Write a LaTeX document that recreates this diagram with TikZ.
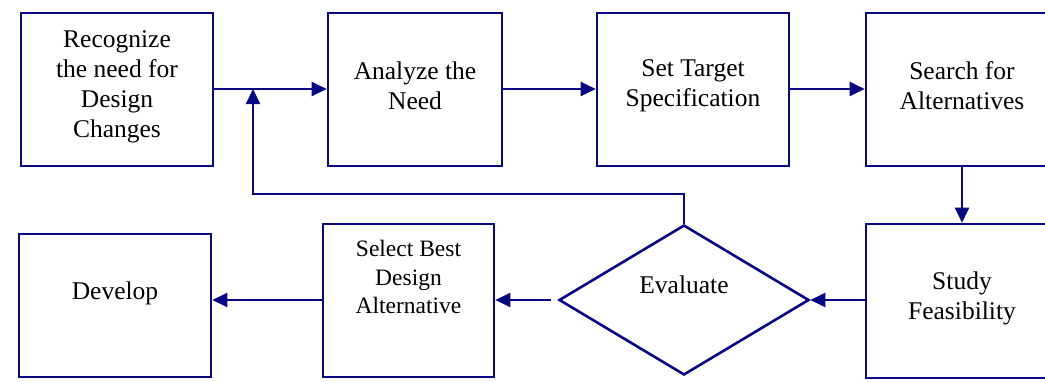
\documentclass[tikz,border=0pt]{standalone}
\usepackage{fontspec}
\setmainfont{Liberation Serif}
\newfontfamily\boxfont{Liberation Serif}
\usetikzlibrary{arrows.meta,shapes.geometric,calc}
\definecolor{flow}{RGB}{8,8,130}
\begin{document}
\begin{tikzpicture}[x=1pt,y=-1pt,
  box/.style={draw=flow,line width=2.6pt,minimum width=#1,minimum height=153pt,inner sep=0pt},
  box/.default=192pt,
  big/.style={font=\boxfont\fontsize{25.5}{30}\selectfont,align=center,text=black},
  small/.style={font=\boxfont\fontsize{23.5}{28.5}\selectfont,align=center,text=black},
  arr/.style={draw=flow,line width=2.2pt,-{Triangle[length=15pt,width=14pt]}}]
\useasboundingbox (0,0) rectangle (1045,381);
\fill[white] (0,0) rectangle (1045,381);

% top row
\node[box,label={[big,yshift=2.5pt]center:Recognize\\the need for\\Design\\Changes}] (rec) at (117,89.5) {};
\node[box=174pt,label={[big,yshift=3.5pt]center:Analyze the\\Need}] (ana) at (415,89.5) {};
\node[box,label={[big,yshift=3.5pt]center:Set Target\\Specification}] (set) at (693,89.5) {};
\node[box,label={[big,yshift=3.5pt]center:Search for\\Alternatives}] (sea) at (962,89.5) {};

% bottom row
\node[box,minimum height=154pt,label={[big,yshift=3pt]center:Study\\Feasibility}] (stu) at (962,301) {};
\node[diamond,draw=flow,line width=2.6pt,minimum width=250pt,minimum height=150pt,inner sep=0pt,
      label={[big,yshift=15pt]center:Evaluate}] (eva) at (684,300) {};
\node[box=171pt,label={[small,yshift=23.5pt]center:Select Best\\Design\\Alternative}] (sel) at (408.5,300.5) {};
\node[box,minimum height=143pt,label={[big,yshift=12pt]center:Develop}] (dev) at (115,305.5) {};

% flow connectors
\coordinate (join) at (253,89);
\draw[arr] (rec.east |- 0,89) -- (ana.west |- 0,89);
\draw[arr] (ana.east |- 0,89) -- (set.west |- 0,89);
\draw[arr] (set.east |- 0,89) -- (sea.west |- 0,89);
\draw[arr] (sea.south) -- (stu.north);
\draw[arr] (stu.west |- eva.east) -- (eva.east);
\draw[arr] ($(eva.west)+(-7,0)$) -- (sel.east |- eva.west);
\draw[arr] (sel.west |- eva.west) -- (dev.east |- eva.west);
\draw[arr] (eva.north) -- ++(0,-30) -| (join);
\end{tikzpicture}
\end{document}
